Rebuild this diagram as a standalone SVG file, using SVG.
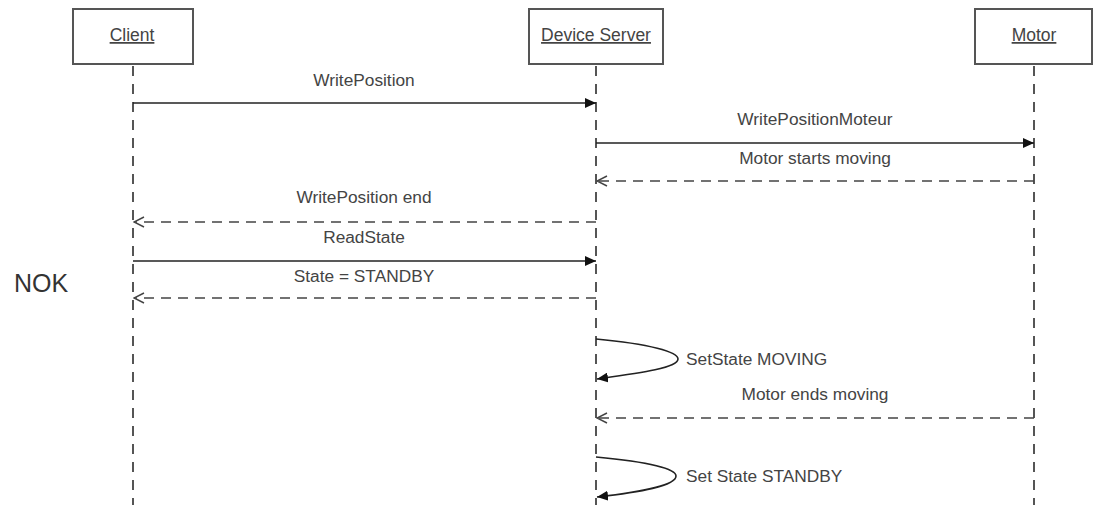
<svg xmlns="http://www.w3.org/2000/svg" width="1096" height="505" viewBox="0 0 1096 505">
<style>
.box{fill:#fff;stroke:#555;stroke-width:2}
.name{font-family:"Liberation Sans",Arial,sans-serif;font-size:17.5px;fill:#444;text-anchor:middle;text-decoration:underline}
.life{stroke:#555;stroke-width:2;stroke-dasharray:10 8;fill:none}
.msg{stroke:#222;stroke-width:1.6;fill:none}
.ret{stroke:#444;stroke-width:1.6;fill:none;stroke-dasharray:10 7}
.lbl{font-family:"Liberation Sans",Arial,sans-serif;font-size:17.3px;fill:#444;text-anchor:middle}
.lbl2{font-family:"Liberation Sans",Arial,sans-serif;font-size:17.3px;fill:#444}
</style>
<defs>
<marker id="filled" viewBox="0 0 11 10" refX="11" refY="5" markerWidth="11" markerHeight="10" markerUnits="userSpaceOnUse" orient="auto">
<path d="M0,0 L11,5 L0,10 z" fill="#111"/>
</marker>
<marker id="open" viewBox="0 0 12 12" refX="11" refY="6" markerWidth="12" markerHeight="12" markerUnits="userSpaceOnUse" orient="auto">
<path d="M1,1 L11,6 L1,11" fill="none" stroke="#444" stroke-width="1.5"/>
</marker>
</defs>
<rect width="1096" height="505" fill="#fff"/>
<g id="client">
<rect class="box" x="73" y="9" width="120" height="55"/>
<text class="name" x="132" y="41">Client</text>
<line class="life" x1="133" y1="66" x2="133" y2="505"/>
</g>
<g id="device-server">
<rect class="box" x="529" y="9" width="134" height="55"/>
<text class="name" x="596" y="41">Device Server</text>
<line class="life" x1="596" y1="66" x2="596" y2="505"/>
</g>
<g id="motor">
<rect class="box" x="975" y="9" width="117" height="55"/>
<text class="name" x="1034" y="41">Motor</text>
<line class="life" x1="1034" y1="66" x2="1034" y2="505"/>
</g>
<g id="nok">
<text x="14" y="292" font-family="'Liberation Sans',Arial,sans-serif" font-size="25" fill="#333">NOK</text>
</g>
<g id="connectors">
<line class="msg" x1="133" y1="103" x2="596" y2="103" marker-end="url(#filled)"/>
<text class="lbl" x="364" y="86">WritePosition</text>
<line class="msg" x1="596" y1="143" x2="1034" y2="143" marker-end="url(#filled)"/>
<text class="lbl" x="815" y="125">WritePositionMoteur</text>
<line class="ret" x1="1034" y1="181" x2="597" y2="181" marker-end="url(#open)"/>
<text class="lbl" x="815" y="164">Motor starts moving</text>
<line class="ret" x1="596" y1="222" x2="134" y2="222" marker-end="url(#open)"/>
<text class="lbl" x="364" y="203">WritePosition end</text>
<line class="msg" x1="133" y1="261" x2="596" y2="261" marker-end="url(#filled)"/>
<text class="lbl" x="364" y="243">ReadState</text>
<line class="ret" x1="596" y1="298" x2="134" y2="298" marker-end="url(#open)"/>
<text class="lbl" x="364" y="282">State = STANDBY</text>
<path class="msg" d="M596,339 C650,344 678,352 678,359 C678,368 640,373 597,379" marker-end="url(#filled)"/>
<text class="lbl2" x="686" y="365">SetState MOVING</text>
<line class="ret" x1="1034" y1="418" x2="597" y2="418" marker-end="url(#open)"/>
<text class="lbl" x="815" y="400">Motor ends moving</text>
<path class="msg" d="M596,457 C650,462 676,469 676,476 C676,486 640,492 597,497" marker-end="url(#filled)"/>
<text class="lbl2" x="686" y="482">Set State STANDBY</text>
</g>
</svg>
